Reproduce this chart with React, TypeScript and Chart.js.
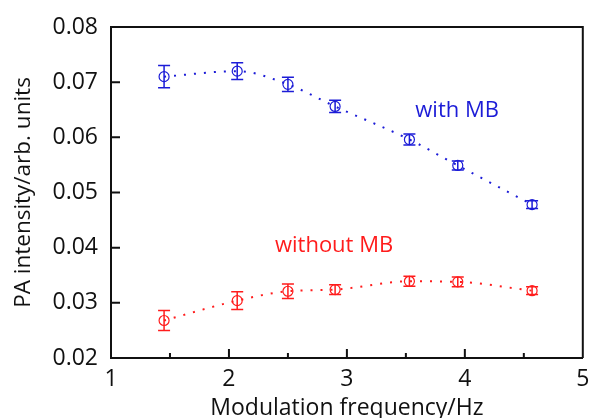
import React, { useEffect, useRef } from "react";
import { Chart, registerables } from "chart.js";

Chart.register(...registerables);

const freqs = [1.45, 2.07, 2.5, 2.9, 3.53, 3.94, 4.57];
const withMB = [0.071, 0.072, 0.0696, 0.0656, 0.0596, 0.0549, 0.0478];
const withMBErr = [0.002, 0.0015, 0.0013, 0.0011, 0.001, 0.0008, 0.0007];
const withoutMB = [0.0268, 0.0304, 0.0321, 0.0324, 0.0339, 0.0338, 0.0322];
const withoutMBErr = [0.0018, 0.0016, 0.0013, 0.0009, 0.0009, 0.0009, 0.0007];
const seriesLabels = ["with MB", "without MB"];
const labelPos = [
  { x: 3.58, y: 0.0637 },
  { x: 2.39, y: 0.0393 },
];
const xTicks = [1, 2, 3, 4, 5];
const yTicks = [0.02, 0.03, 0.04, 0.05, 0.06, 0.07, 0.08];

const BLUE = "rgb(28,28,215)";
const RED = "rgb(255,28,28)";
const FONT = "'Open Sans', 'DejaVu Sans', sans-serif";

const errorBarPlugin = {
  id: "errorBars",
  afterDatasetsDraw(chart: any) {
    const { ctx, scales } = chart;
    const xs = scales.x;
    const ys = scales.y;
    chart.data.datasets.forEach((ds: any) => {
      const errs: number[] = ds.errors || [];
      ctx.save();
      ctx.strokeStyle = ds.borderColor;
      ctx.lineWidth = 1.5;
      ds.data.forEach((p: any, i: number) => {
        const e = errs[i];
        const px = xs.getPixelForValue(p.x);
        const top = ys.getPixelForValue(p.y + e);
        const bot = ys.getPixelForValue(p.y - e);
        ctx.beginPath();
        ctx.moveTo(px, top);
        ctx.lineTo(px, bot);
        ctx.moveTo(px - 6, top);
        ctx.lineTo(px + 6, top);
        ctx.moveTo(px - 6, bot);
        ctx.lineTo(px + 6, bot);
        ctx.stroke();
      });
      ctx.restore();
    });
  },
};

const framePlugin = {
  id: "frame",
  afterDraw(chart: any) {
    const { ctx, chartArea, scales } = chart;
    const { left, right, top, bottom } = chartArea;
    ctx.save();
    ctx.strokeStyle = "#111";
    ctx.lineWidth = 2;
    ctx.beginPath();
    ctx.moveTo(left, top);
    ctx.lineTo(right, top);
    ctx.lineTo(right, bottom);
    yTicks.forEach((v) => {
      const py = scales.y.getPixelForValue(v);
      ctx.moveTo(left, py);
      ctx.lineTo(left + 9, py);
    });
    for (let v = xTicks[0]; v <= xTicks[xTicks.length - 1]; v += 0.5) {
      const px = scales.x.getPixelForValue(v);
      const len = Number.isInteger(v) ? 9 : 5;
      ctx.moveTo(px, bottom);
      ctx.lineTo(px, bottom - len);
    }
    ctx.stroke();
    ctx.font = `22px ${FONT}`;
    ctx.textBaseline = "alphabetic";
    ctx.textAlign = "left";
    chart.data.datasets.forEach((ds: any, i: number) => {
      ctx.fillStyle = ds.borderColor;
      ctx.fillText(
        seriesLabels[i],
        scales.x.getPixelForValue(labelPos[i].x),
        scales.y.getPixelForValue(labelPos[i].y)
      );
    });
    ctx.restore();
  },
};

export default function App() {
  const ref = useRef<HTMLCanvasElement | null>(null);
  useEffect(() => {
    if (!ref.current) return;
    const mk = (xs: number[], ys: number[]) => xs.map((x, i) => ({ x, y: ys[i] }));
    const common = {
      backgroundColor: "rgba(0,0,0,0)",
      showLine: true,
      borderDash: [2, 8],
      borderWidth: 2,
      cubicInterpolationMode: "monotone",
      pointRadius: 5,
      pointBorderWidth: 1.2,
      pointBackgroundColor: "rgba(0,0,0,0)",
    };
    const chart = new Chart(ref.current, {
      type: "scatter",
      data: {
        datasets: [
          {
            ...common,
            label: seriesLabels[0],
            data: mk(freqs, withMB),
            errors: withMBErr,
            borderColor: BLUE,
            pointBorderColor: BLUE,
          } as any,
          {
            ...common,
            label: seriesLabels[1],
            data: mk(freqs, withoutMB),
            errors: withoutMBErr,
            borderColor: RED,
            pointBorderColor: RED,
          } as any,
        ],
      },
      options: {
        animation: false,
        responsive: false,
        maintainAspectRatio: false,
        layout: { padding: { top: 27, right: 6, left: 0, bottom: 0 } },
        plugins: { legend: { display: false }, tooltip: { enabled: false } },
        scales: {
          x: {
            type: "linear",
            min: xTicks[0],
            max: xTicks[xTicks.length - 1],
            afterFit: (s: any) => {
              s.height = 60;
              s.paddingLeft = 0;
              s.paddingRight = 0;
            },
            afterBuildTicks: (s: any) => {
              s.ticks = xTicks.map((v) => ({ value: v }));
            },
            grid: { display: false, drawTicks: false },
            border: { display: true, color: "#111", width: 2 },
            ticks: {
              color: "#111",
              padding: 8,
              font: { family: FONT, size: 23 },
              callback: (v: any) => String(v),
            },
            title: {
              display: true,
              text: "Modulation frequency/Hz",
              color: "#111",
              font: { family: FONT, size: 23, lineHeight: 0.8 },
              padding: { top: 0, bottom: 0 },
            },
          },
          y: {
            type: "linear",
            min: yTicks[0],
            max: yTicks[yTicks.length - 1],
            afterFit: (s: any) => {
              s.width = 111;
              s.paddingTop = 0;
              s.paddingBottom = 0;
            },
            afterBuildTicks: (s: any) => {
              s.ticks = yTicks.map((v) => ({ value: v }));
            },
            grid: { display: false, drawTicks: false },
            border: { display: true, color: "#111", width: 2 },
            ticks: {
              color: "#111",
              padding: 13,
              font: { family: FONT, size: 23 },
              callback: (v: any) => Number(v).toFixed(2),
            },
            title: {
              display: true,
              text: "PA intensity/arb. units",
              color: "#111",
              font: { family: FONT, size: 22.5 },
              padding: { top: 10, bottom: 0 },
            },
          },
        },
      },
      plugins: [errorBarPlugin, framePlugin],
    });
    return () => chart.destroy();
  }, []);
  return (
    <div style={{ position: "fixed", left: 0, top: 0, width: 589, height: 418, background: "#fff" }}>
      <canvas ref={ref} width={589} height={418} style={{ display: "block" }} />
    </div>
  );
}
